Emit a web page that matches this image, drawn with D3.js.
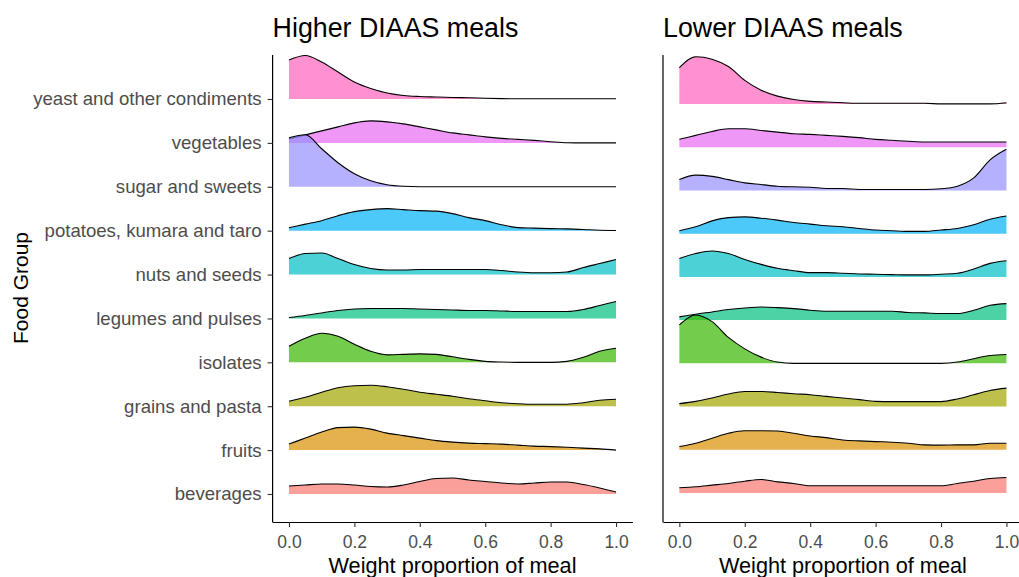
<!DOCTYPE html>
<html>
<head>
<meta charset="utf-8">
<script src="https://cdn.jsdelivr.net/npm/d3@7"></script>
<style>
	body { margin: 0; background: #fff; }
	svg { display: block; font-family: "Liberation Sans", Arial, sans-serif; }
</style>
</head>
<body>
<script>
// food groups, bottom to top
const categories = ['beverages', 'fruits', 'grains and pasta', 'isolates', 'legumes and pulses',
	'nuts and seeds', 'potatoes, kumara and taro', 'sugar and sweets', 'vegetables', 'yeast and other condiments'];

const grid = [0, 0.05, 0.1, 0.15, 0.2, 0.25, 0.3, 0.35, 0.4, 0.45, 0.5,
	0.55, 0.6, 0.65, 0.7, 0.75, 0.8, 0.85, 0.9, 0.95, 1.0];

const xTicks = [0, 0.2, 0.4, 0.6, 0.8, 1.0];

// estimated densities, same order as categories
const higher = [
	[0.8, 0.9, 1.0, 1.0, 0.9, 0.75, 0.7, 0.9, 1.25, 1.55, 1.6, 1.4, 1.25, 1.1, 1.0, 1.1, 1.2, 1.2, 0.95, 0.6, 0.2],
	[0.6, 1.2, 1.8, 2.25, 2.3, 2.1, 1.7, 1.45, 1.2, 0.95, 0.8, 0.7, 0.65, 0.6, 0.5, 0.4, 0.35, 0.28, 0.2, 0.12, 0],
	[0.5, 0.9, 1.4, 1.85, 2.05, 2.1, 1.95, 1.7, 1.4, 1.2, 1.0, 0.75, 0.55, 0.35, 0.25, 0.2, 0.2, 0.2, 0.35, 0.6, 0.7],
	[1.6, 2.4, 2.9, 2.6, 1.8, 1.1, 0.75, 0.8, 0.85, 0.8, 0.55, 0.3, 0.1, 0.03, 0, 0, 0, 0.1, 0.5, 1.1, 1.4],
	[0.1, 0.3, 0.55, 0.8, 0.95, 1.0, 1.0, 1.0, 0.95, 0.9, 0.85, 0.8, 0.8, 0.75, 0.7, 0.7, 0.7, 0.7, 0.9, 1.3, 1.7],
	[1.6, 2.1, 2.15, 1.6, 1.0, 0.6, 0.45, 0.45, 0.5, 0.5, 0.5, 0.5, 0.5, 0.4, 0.25, 0.18, 0.18, 0.25, 0.7, 1.1, 1.5],
	[0.3, 0.65, 1.0, 1.5, 1.9, 2.1, 2.2, 2.1, 2.0, 1.95, 1.7, 1.3, 1.0, 0.6, 0.3, 0.25, 0.2, 0.18, 0.12, 0.04, 0.02],
	[4.9, 5.2, 3.8, 2.4, 1.3, 0.6, 0.2, 0.05, 0.01, 0.01, 0.01, 0.01, 0.01, 0.01, 0.01, 0.01, 0.01, 0.01, 0.01, 0.01, 0.01],
	[0.4, 0.8, 1.2, 1.6, 2.0, 2.2, 2.1, 1.9, 1.6, 1.3, 1.0, 0.8, 0.6, 0.45, 0.35, 0.25, 0.12, 0.02, 0, 0, 0],
	[3.9, 4.35, 3.7, 2.7, 1.7, 1.05, 0.6, 0.35, 0.25, 0.2, 0.15, 0.12, 0.08, 0.04, 0.02, 0.02, 0.02, 0.02, 0.02, 0.02, 0.02]
];

const lower = [
	[0.53, 0.63, 0.8, 0.97, 1.2, 1.37, 1.13, 0.97, 0.73, 0.73, 0.73, 0.73, 0.73, 0.73, 0.73, 0.73, 0.73, 0.97, 1.2, 1.47, 1.57],
	[0.33, 0.67, 1.17, 1.67, 1.93, 1.93, 1.9, 1.67, 1.4, 1.23, 1.0, 0.9, 0.83, 0.77, 0.67, 0.5, 0.47, 0.5, 0.5, 0.67, 0.67],
	[0.3, 0.53, 0.87, 1.27, 1.53, 1.53, 1.43, 1.3, 1.2, 1.03, 0.87, 0.7, 0.53, 0.5, 0.5, 0.5, 0.5, 0.77, 1.2, 1.63, 1.87],
	[3.9, 4.9, 4.23, 2.63, 1.47, 0.63, 0.13, 0, 0, 0, 0, 0, 0, 0, 0, 0, 0, 0.13, 0.47, 0.8, 0.9],
	[0.33, 0.6, 0.83, 1.07, 1.23, 1.33, 1.27, 1.17, 1.0, 0.9, 0.9, 0.9, 0.9, 0.9, 0.77, 0.73, 0.67, 0.67, 1.0, 1.5, 1.67],
	[1.87, 2.37, 2.63, 2.37, 1.77, 1.27, 0.87, 0.63, 0.43, 0.43, 0.37, 0.3, 0.27, 0.23, 0.2, 0.2, 0.27, 0.37, 0.8, 1.37, 1.63],
	[0.3, 0.7, 1.3, 1.63, 1.7, 1.57, 1.37, 1.13, 0.97, 0.8, 0.7, 0.53, 0.37, 0.3, 0.23, 0.23, 0.37, 0.53, 0.9, 1.47, 1.8],
	[1.1, 1.55, 1.43, 1.1, 0.77, 0.6, 0.43, 0.37, 0.33, 0.2, 0.2, 0.1, 0.1, 0.1, 0.1, 0.1, 0.17, 0.43, 1.27, 3.1, 4.17],
	[0.8, 1.2, 1.6, 1.87, 1.87, 1.7, 1.53, 1.37, 1.3, 1.2, 1.1, 0.97, 0.8, 0.7, 0.6, 0.53, 0.53, 0.53, 0.53, 0.53, 0.53],
	[3.7, 4.8, 4.55, 3.8, 2.4, 1.4, 0.8, 0.45, 0.27, 0.2, 0.13, 0.07, 0.07, 0.07, 0.07, 0.07, 0.01, 0.01, 0.01, 0.01, 0.13]
];

// ggplot default hue palette for 10 groups
const palette = ['#F8766D', '#D89000', '#A3A500', '#39B600', '#00BF7D',
	'#00BFC4', '#00B0F6', '#9590FF', '#E76BF3', '#FF62BC'];

const width = 1019, height = 577;
const ridgeScale = 0.228; // density -> rows

const svg = d3.select('body').append('svg')
	.attr('width', width)
	.attr('height', height);

const color = d3.scaleOrdinal().domain(categories).range(palette);

const panels = [
	{ title: 'Higher DIAAS meals', data: higher, left: 272.6, right: 632.4, yBottom: 494, yTop: 99, labels: true },
	{ title: 'Lower DIAAS meals', data: lower, left: 663, right: 1022.8, yBottom: 493, yTop: 104, labels: false }
];

const axisBottomY = 522, axisTopY = 55;

panels.forEach(p => {
	let x = d3.scaleLinear().domain([-0.05, 1.05]).range([p.left, p.right]);
	let y = d3.scaleLinear().domain([1, 10]).range([p.yBottom, p.yTop]);
	let g = svg.append('g');

	// ridges, top row first so lower rows overlap
	let rows = categories.map((c, i) => ({ name: c, pos: i + 1, values: p.data[i] })).reverse();

	rows.forEach(r => {
		let pts = grid.map((gx, j) => [gx, r.values[j]]);
		let area = d3.area()
			.x(d => x(d[0]))
			.y0(y(r.pos))
			.y1(d => y(r.pos + d[1] * ridgeScale))
			.curve(d3.curveMonotoneX);
		let line = d3.line()
			.x(d => x(d[0]))
			.y(d => y(r.pos + d[1] * ridgeScale))
			.curve(d3.curveMonotoneX);
		g.append('path')
			.attr('d', area(pts))
			.style('fill', color(r.name))
			.style('fill-opacity', 0.7)
			.style('stroke', 'none');
		g.append('path')
			.attr('d', line(pts))
			.style('fill', 'none')
			.style('stroke', '#000')
			.style('stroke-width', 1.1);
	});

	// x axis
	let xAxis = g.append('g')
		.attr('transform', `translate(0,${axisBottomY})`)
		.call(d3.axisBottom(x).tickValues(xTicks).tickFormat(d3.format('.1f'))
			.tickSize(5).tickSizeOuter(0).tickPadding(9));
	xAxis.select('.domain').style('stroke', '#000').style('stroke-width', 1.2);
	xAxis.selectAll('.tick line').style('stroke', '#333').style('stroke-width', 1.1);
	xAxis.selectAll('text')
		.style('font-family', '"Liberation Sans", Arial, sans-serif')
		.style('font-size', '17.5px')
		.style('fill', '#4D4D4D');

	// y axis line spans the whole panel
	g.append('line')
		.attr('x1', p.left).attr('x2', p.left)
		.attr('y1', axisTopY).attr('y2', axisBottomY + 0.6)
		.style('stroke', '#000')
		.style('stroke-width', 1.2);

	if (p.labels) {
		let yAxis = g.append('g')
			.attr('transform', `translate(${p.left},0)`)
			.call(d3.axisLeft(y).tickValues(d3.range(1, 11)).tickFormat(i => categories[i - 1])
				.tickSize(5).tickSizeOuter(0).tickPadding(6));
		yAxis.select('.domain').remove();
		yAxis.selectAll('.tick line').style('stroke', '#333').style('stroke-width', 1.1);
		yAxis.selectAll('text')
			.style('font-family', '"Liberation Sans", Arial, sans-serif')
			.style('font-size', '18.6px')
			.style('fill', '#4D4D4D');
	}

	svg.append('text')
		.attr('x', p.left)
		.attr('y', 37)
		.style('font-size', '26.8px')
		.style('fill', '#000')
		.text(p.title);

	svg.append('text')
		.attr('x', (p.left + p.right) / 2)
		.attr('y', 573)
		.attr('text-anchor', 'middle')
		.style('font-size', '21.7px')
		.style('fill', '#000')
		.text('Weight proportion of meal');
});

svg.append('text')
	.attr('transform', 'translate(28,288) rotate(-90)')
	.attr('text-anchor', 'middle')
	.style('font-size', '21px')
	.style('fill', '#000')
	.text('Food Group');
</script>
</body>
</html>
